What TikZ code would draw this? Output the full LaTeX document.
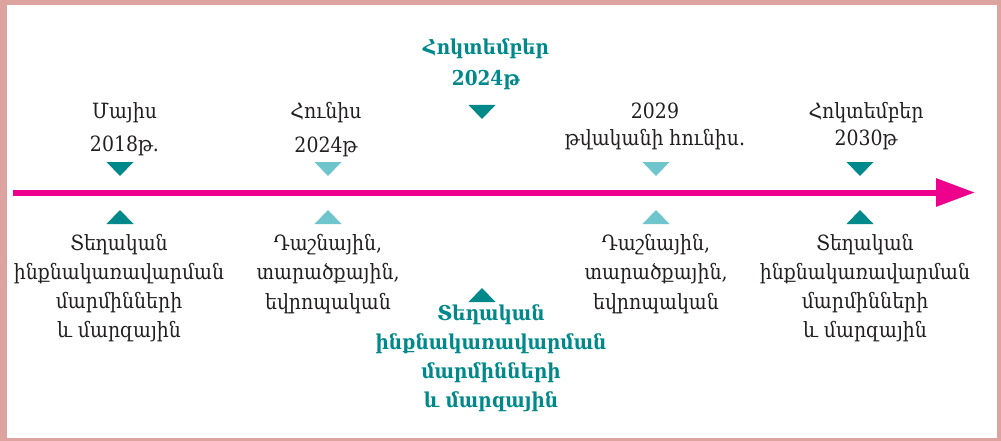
\documentclass[tikz,border=0pt]{standalone}
\usepackage{fontspec}
\setmainfont{DejaVu Serif Condensed}
\usetikzlibrary{arrows.meta}

\definecolor{ramka}{RGB}{221,163,159}
\definecolor{roz}{RGB}{236,0,140}
\definecolor{ciemny}{RGB}{0,137,138}
\definecolor{jasny}{RGB}{110,198,204}
\definecolor{tekst}{RGB}{35,31,32}

\tikzset{
	napis/.style={align=center, text=tekst, inner sep=0pt, font=\fontsize{21}{#1}\selectfont},
	napis/.default=29.5,
	gruby/.style={align=center, text=ciemny, inner sep=0pt, font=\bfseries\fontsize{20.5}{#1}\selectfont},
	gruby/.default=29.5
}

\begin{document}
\begin{tikzpicture}[x=1pt,y=-1pt]
	%ramka
	\fill[ramka] (0,0) rectangle (1001,441);
	\fill[white] (7,5) rectangle (997,438);

	%os czasu
	\coordinate (start) at (13,192.5);
	\coordinate (koniec) at (975,192.5);
	\draw[roz, line width=6pt, -{Triangle[length=39pt,width=27pt]}] (start) -- (koniec);

	%znaczniki
	\foreach \x/\k in {120/ciemny, 328/jasny, 656/jasny, 860/ciemny}{
		\fill[\k] (\x-13.5,162) -- (\x+13.5,162) -- (\x,176) -- cycle;
		\fill[\k] (\x-13.5,224) -- (\x+13.5,224) -- (\x,210) -- cycle;
	}
	\fill[ciemny] (468.5,105) -- (495.5,105) -- (482,119) -- cycle;
	\fill[ciemny] (468.5,302) -- (495.5,302) -- (482,288) -- cycle;

	%daty
	\node[napis=33] (maj2018) at (124.5,129.5) {Մայիս\\2018թ.};
	\node[napis=34] (cze2024) at (326,130) {Հունիս\\2024թ};
	\node[gruby=31] (paz2024) at (486,64) {Հոկտեմբեր\\2024թ};
	\node[napis=27] (cze2029) at (655,126) {2029\\թվականի հունիս.};
	\node[napis=27] (paz2030) at (866,126) {Հոկտեմբեր\\2030թ};

	%opisy
	\node[napis=29] (opis1) at (119,288) {Տեղական\\ինքնակառավարման\\մարմինների\\և մարզային};
	\node[napis] (opis2) at (328,274) {Դաշնային,\\տարածքային,\\եվրոպական};
	\node[gruby=29] (opis3) at (491,358) {Տեղական\\ինքնակառավարման\\մարմինների\\և մարզային};
	\node[napis] (opis4) at (656,274) {Դաշնային,\\տարածքային,\\եվրոպական};
	\node[napis=29] (opis5) at (865,288) {Տեղական\\ինքնակառավարման\\մարմինների\\և մարզային};
\end{tikzpicture}
\end{document}
